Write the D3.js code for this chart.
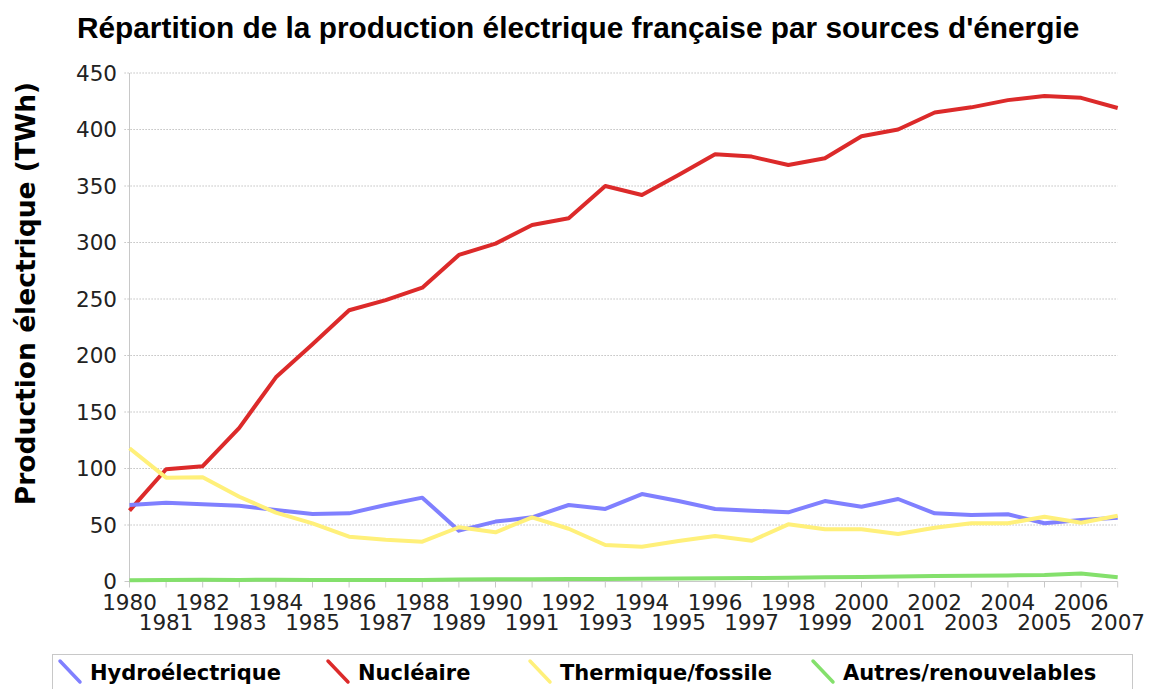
<!DOCTYPE html>
<html>
<head>
<meta charset="utf-8">
<script src="https://cdn.jsdelivr.net/npm/d3@7"></script>
<style>
  body { margin: 0; background: #fff; }
  svg { display: block; font-family: "DejaVu Sans", sans-serif; }
</style>
</head>
<body>
<div id="chart"></div>
<script>
// années
const years = d3.range(1980, 2008);

// production en TWh
const hydro = [67.7, 69.7, 68.3, 67, 63.3, 59.7, 60.3, 67.7, 74.2, 45, 53, 56.8, 67.7, 64.2, 77.4, 71.2,
  64.2, 62.7, 61.2, 71.2, 66.2, 73, 60.3, 58.8, 59.5, 51.5, 54.4, 56.5];
const nucleaire = [62.7, 99.3, 102, 136, 180.7, 210, 240, 249, 260, 289, 299, 315.5, 321.4, 350, 342, 359.7,
  378, 376, 368.6, 374.5, 394, 400, 415, 419.6, 426, 429.6, 428, 419];
const thermique = [117.9, 91.9, 92.2, 75, 60.9, 51.5, 39.7, 37, 35.2, 48, 43.5, 56.8, 46.7, 32.3, 30.8, 35.8,
  40.3, 36.1, 50.6, 46.2, 46.2, 42, 47.6, 51.5, 51.5, 57.3, 52, 58.2];
const autres = [1.2, 1.3, 1.5, 1.4, 1.5, 1.3, 1.3, 1.3, 1.4, 1.8, 2.0, 2.1, 2.2, 2.2, 2.4, 2.6,
  2.9, 3.1, 3.4, 3.7, 4.0, 4.4, 4.8, 5.1, 5.4, 5.8, 7.0, 3.8];

const seriesNames = ["Hydroélectrique", "Nucléaire", "Thermique/fossile", "Autres/renouvelables"];
const seriesColors = ["#8080ff", "#dc2a2a", "#fff07a", "#84e06c"];
const yTicks = [0, 50, 100, 150, 200, 250, 300, 350, 400, 450];

const width = 1152, height = 689;
const margin = { top: 73, right: 34.3, bottom: 107.5, left: 129.5 };

const svg = d3.select("#chart").append("svg")
  .attr("width", width)
  .attr("height", height);

const x = d3.scaleLinear()
  .domain([1980, 2007])
  .range([margin.left, width - margin.right]);

const y = d3.scaleLinear()
  .domain([0, 450])
  .range([height - margin.bottom, margin.top]);

// titre
svg.append("text")
  .attr("x", 77)
  .attr("y", 38)
  .style("font-family", "'Liberation Sans', Arial, sans-serif")
  .style("font-size", "29.8px")
  .style("font-weight", "bold")
  .attr("fill", "#000")
  .text("Répartition de la production électrique française par sources d'énergie");

// titre axe y
svg.append("text")
  .attr("transform", `translate(35,293.5) rotate(-90)`)
  .attr("text-anchor", "middle")
  .style("font-size", "26.5px")
  .style("font-weight", "bold")
  .attr("fill", "#000")
  .text("Production électrique (TWh)");

// grille horizontale
svg.append("g")
  .selectAll("line")
  .data(yTicks.filter(d => d > 0))
  .join("line")
  .attr("x1", margin.left - 5)
  .attr("x2", x(2007))
  .attr("y1", d => y(d))
  .attr("y2", d => y(d))
  .attr("stroke", "#b0b0b0")
  .attr("stroke-width", 1)
  .attr("stroke-dasharray", "1.2,1.8");

// axe y
svg.append("line")
  .attr("x1", margin.left).attr("x2", margin.left)
  .attr("y1", y(450)).attr("y2", y(0))
  .attr("stroke", "#c8c8c8");

svg.append("g")
  .selectAll("text")
  .data(yTicks)
  .join("text")
  .attr("x", 117)
  .attr("y", d => y(d))
  .attr("dy", "0.36em")
  .attr("text-anchor", "end")
  .style("font-size", "21.5px")
  .attr("fill", "#222")
  .text(d => d);

// axe x
svg.append("line")
  .attr("x1", margin.left - 5).attr("x2", x(2007))
  .attr("y1", y(0)).attr("y2", y(0))
  .attr("stroke", "#c8c8c8");

svg.append("g")
  .selectAll("line")
  .data(years)
  .join("line")
  .attr("x1", d => x(d)).attr("x2", d => x(d))
  .attr("y1", y(0)).attr("y2", y(0) + 6)
  .attr("stroke", "#c8c8c8");

svg.append("g")
  .selectAll("text")
  .data(years)
  .join("text")
  .attr("x", d => x(d))
  .attr("y", d => d % 2 === 0 ? 610 : 630)
  .attr("text-anchor", "middle")
  .style("font-size", "21.5px")
  .attr("fill", "#222")
  .text(d => d);

// courbes
const data = [hydro, nucleaire, thermique, autres];
const line = d3.line()
  .x((d, i) => x(years[i]))
  .y(d => y(d));

// ordre de dessin : autres en dessous, puis nucléaire, hydro, thermique
const drawOrder = [3, 1, 0, 2];
svg.append("g")
  .selectAll("path")
  .data(drawOrder)
  .join("path")
  .attr("d", k => line(data[k]))
  .attr("fill", "none")
  .attr("stroke", k => seriesColors[k])
  .attr("stroke-width", 4)
  .attr("stroke-linejoin", "round");

// légende
const legendX = [59, 327, 529, 812];
const legend = svg.append("g");
legend.append("rect")
  .attr("x", 52.5)
  .attr("y", 654.5)
  .attr("width", 1080)
  .attr("height", 50)
  .attr("fill", "#fff")
  .attr("stroke", "#c8c8c8");

const item = legend.selectAll("g.item")
  .data(seriesNames)
  .join("g")
  .attr("class", "item")
  .attr("transform", (d, i) => `translate(${legendX[i]},0)`);

item.append("line")
  .attr("x1", 1).attr("y1", 661)
  .attr("x2", 21).attr("y2", 682)
  .attr("stroke", (d, i) => seriesColors[i])
  .attr("stroke-width", 3.5)
  .attr("stroke-linecap", "round");

item.append("text")
  .attr("x", 31)
  .attr("y", 680)
  .style("font-size", "21px")
  .style("font-weight", "bold")
  .attr("fill", "#000")
  .text(d => d);
</script>
</body>
</html>
